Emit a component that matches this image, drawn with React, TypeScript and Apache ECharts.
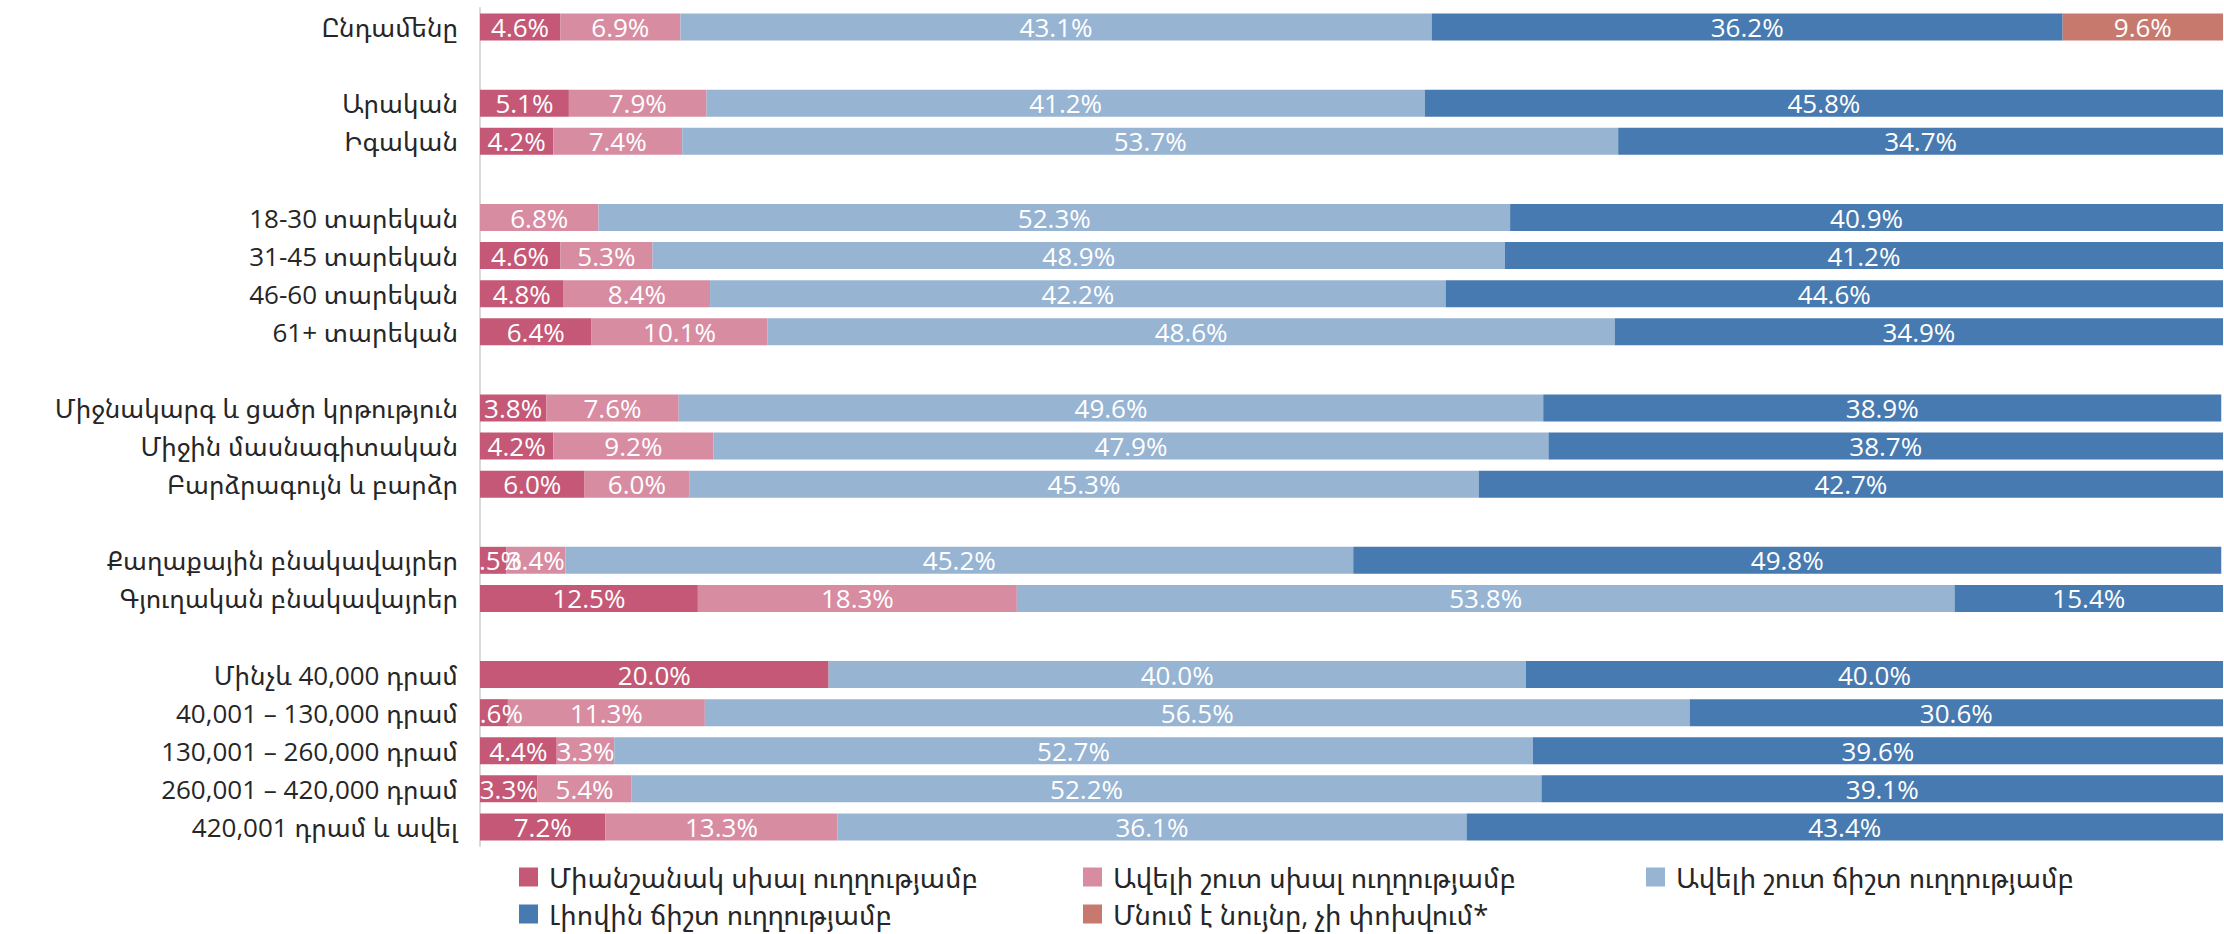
import React, { useEffect, useRef } from "react";
import * as echarts from "echarts";

const categories = [
  "Ընդամենը",
  "",
  "Արական",
  "Իգական",
  " ",
  "18-30 տարեկան",
  "31-45 տարեկան",
  "46-60 տարեկան",
  "61+ տարեկան",
  "  ",
  "Միջնակարգ և ցածր կրթություն",
  "Միջին մասնագիտական",
  "Բարձրագույն և բարձր",
  "   ",
  "Քաղաքային բնակավայրեր",
  "Գյուղական բնակավայրեր",
  "    ",
  "Մինչև 40,000 դրամ",
  "40,001 – 130,000 դրամ",
  "130,001 – 260,000 դրամ",
  "260,001 – 420,000 դրամ",
  "420,001 դրամ և ավել",
];

const seriesNames = [
  "Միանշանակ սխալ ուղղությամբ",
  "Ավելի շուտ սխալ ուղղությամբ",
  "Ավելի շուտ ճիշտ ուղղությամբ",
  "Լիովին ճիշտ ուղղությամբ",
  "Մնում է նույնը, չի փոխվում*",
];

const definitelyWrong = [4.6, null, 5.1, 4.2, null, null, 4.6, 4.8, 6.4, null, 3.8, 4.2, 6.0, null, 1.5, 12.5, null, 20.0, 1.6, 4.4, 3.3, 7.2];
const ratherWrong = [6.9, null, 7.9, 7.4, null, 6.8, 5.3, 8.4, 10.1, null, 7.6, 9.2, 6.0, null, 3.4, 18.3, null, null, 11.3, 3.3, 5.4, 13.3];
const ratherRight = [43.1, null, 41.2, 53.7, null, 52.3, 48.9, 42.2, 48.6, null, 49.6, 47.9, 45.3, null, 45.2, 53.8, null, 40.0, 56.5, 52.7, 52.2, 36.1];
const fullyRight = [36.2, null, 45.8, 34.7, null, 40.9, 41.2, 44.6, 34.9, null, 38.9, 38.7, 42.7, null, 49.8, 15.4, null, 40.0, 30.6, 39.6, 39.1, 43.4];
const unchanged = [9.6, null, null, null, null, null, null, null, null, null, null, null, null, null, null, null, null, null, null, null, null, null];

const seriesValues = [definitelyWrong, ratherWrong, ratherRight, fullyRight, unchanged];
const colors = ["#C45876", "#D78CA2", "#97B4D3", "#477AB0", "#C8796E"];

const FONT = "'Open Sans', 'Noto Sans Armenian', 'DejaVu Sans', sans-serif";

export default function App() {
  const ref = useRef<HTMLDivElement>(null);

  useEffect(() => {
    if (!ref.current) return;
    const chart = echarts.init(ref.current, undefined, { renderer: "svg" });

    const legendPos = [
      { left: 519, top: 862 },
      { left: 1083, top: 862 },
      { left: 1646, top: 862 },
      { left: 519, top: 899 },
      { left: 1083, top: 899 },
    ];

    const legends = seriesNames.map((name, i) => ({
      show: true,
      data: [name],
      left: legendPos[i].left,
      top: legendPos[i].top,
      padding: 0,
      itemWidth: 19,
      itemHeight: 19,
      icon: "rect",
      selectedMode: false,
      textStyle: {
        fontFamily: FONT,
        fontSize: 27.5,
        color: "#262626",
        lineHeight: 30,
        padding: [0, 0, 0, 6],
      },
    }));

    const series = seriesNames.map((name, i) => ({
      name,
      type: "bar",
      stack: "total",
      barWidth: 27,
      clip: true,
      itemStyle: { color: colors[i] },
      label: {
        show: true,
        position: "inside",
        color: "#ffffff",
        fontFamily: FONT,
        fontSize: 26,
        formatter: (p: any) =>
          p.value === null || p.value === undefined || p.value === "-"
            ? ""
            : Number(p.value).toFixed(1) + "%",
      },
      data: seriesValues[i],
    }));

    chart.setOption({
      animation: false,
      backgroundColor: "#ffffff",
      legend: legends,
      grid: { left: 480, right: 1, top: 8, height: 838, containLabel: false },
      xAxis: {
        type: "value",
        min: 0,
        max: 100,
        show: false,
      },
      yAxis: {
        type: "category",
        inverse: true,
        data: categories,
        axisLine: { show: true, lineStyle: { color: "#D9D9D9", width: 2 } },
        axisTick: { show: false },
        splitLine: { show: false },
        axisLabel: {
          fontFamily: FONT,
          fontSize: 26,
          color: "#262626",
          margin: 22,
        },
      },
      series,
    });

    return () => chart.dispose();
  }, []);

  return (
    <div
      ref={ref}
      style={{ position: "fixed", left: 0, top: 0, width: 2224, height: 934 }}
    />
  );
}
